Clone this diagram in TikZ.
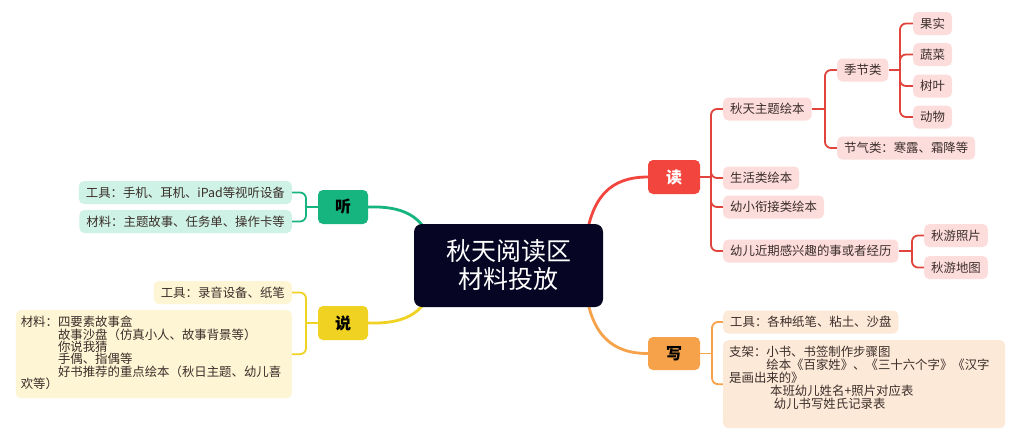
\documentclass[tikz,border=0pt]{standalone}
\usepackage{fontspec}
\setmainfont{Noto Sans CJK SC}
\pgfdeclarelayer{bg}
\pgfsetlayers{bg,main}
\definecolor{navy}{HTML}{060624}
\definecolor{gmain}{HTML}{16B47E}
\definecolor{gleaf}{HTML}{CFF2E6}
\definecolor{ymain}{HTML}{F0D223}
\definecolor{yleaf}{HTML}{FDF5D3}
\definecolor{rmain}{HTML}{F2453D}
\definecolor{rline}{HTML}{E0443C}
\definecolor{rleaf}{HTML}{FDDDDC}
\definecolor{omain}{HTML}{F5A24B}
\definecolor{oleaf}{HTML}{FDE9D8}
\definecolor{txt}{HTML}{3A2E2A}
\tikzset{
  leaf/.style={rounded corners=5pt, inner xsep=7pt, inner ysep=0pt, minimum height=23pt,
    font=\fontsize{12.4}{14}\selectfont, text=txt},
  topic/.style={rounded corners=5pt, minimum width=50pt, minimum height=34pt, inner sep=0pt,
    font=\fontsize{16}{18}\selectfont\bfseries},
  br/.style={line width=1.8pt, rounded corners=6pt},
  mainbr/.style={line width=2.8pt},
}
\begin{document}
\begin{tikzpicture}[x=1pt,y=-1pt]
\useasboundingbox (0,0) rectangle (1024,447);

% center
\node[fill=navy, rounded corners=8pt, minimum width=189pt, minimum height=83pt, text=white,
  align=center, font=\fontsize{25}{28}\selectfont] (c) at (508.5,265.5) {秋天阅读区\\材料投放};
\coordinate (cg) at (432,248);
\coordinate (cy) at (432,285);
\coordinate (cr) at (585,248);
\coordinate (co) at (585,284);

% main topics
\node[topic, fill=gmain, text=black] (ting) at (343,207) {听};
\node[topic, fill=ymain, text=black] (shuo) at (343,323) {说};
\node[topic, fill=rmain, text=white, minimum width=52pt] (du) at (674,177) {读};
\node[topic, fill=omain, text=black, minimum width=52pt, minimum height=33pt] (xie) at (674,353.5) {写};

% 听 leaves
\node[leaf, fill=gleaf, anchor=east] (t1) at (292,192.5) {工具：手机、耳机、iPad等视听设备};
\node[leaf, fill=gleaf, anchor=east] (t2) at (292,221.5) {材料：主题故事、任务单、操作卡等};

% 说 leaves
\node[leaf, fill=yleaf, anchor=east] (s1) at (292,292.5) {工具：录音设备、纸笔};
\node[fill=yleaf, rounded corners=5pt, anchor=north east, inner xsep=5pt, inner ysep=6pt, text=txt] (s2) at (292,310)
 {\parbox[t][76pt][t]{266pt}{\fontsize{12.4}{12.4}\selectfont\raggedright
 材料：四要素故事盒\\
 \hspace*{3em}故事沙盘（仿真小人、故事背景等）\\
 \hspace*{3em}你说我猜\\
 \hspace*{3em}手偶、指偶等\\
 \hspace*{3em}好书推荐的重点绘本（秋日主题、幼儿喜\\
 欢等）}};

% 读 leaves
\node[leaf, fill=rleaf, anchor=west] (d1) at (723,109) {秋天主题绘本};
\node[leaf, fill=rleaf, anchor=west] (d2) at (723,178) {生活类绘本};
\node[leaf, fill=rleaf, anchor=west] (d3) at (723,207) {幼小衔接类绘本};
\node[leaf, fill=rleaf, anchor=west] (d4) at (723,251) {幼儿近期感兴趣的事或者经历};
\node[leaf, fill=rleaf, anchor=west] (j1) at (837,70) {季节类};
\node[leaf, fill=rleaf, anchor=west] (j2) at (837,148) {节气类：寒露、霜降等};
\node[leaf, fill=rleaf, anchor=west] (f1) at (913,23.5) {果实};
\node[leaf, fill=rleaf, anchor=west] (f2) at (913,54.5) {蔬菜};
\node[leaf, fill=rleaf, anchor=west] (f3) at (913,86) {树叶};
\node[leaf, fill=rleaf, anchor=west] (f4) at (913,117) {动物};
\node[leaf, fill=rleaf, anchor=west] (q1) at (924,235.5) {秋游照片};
\node[leaf, fill=rleaf, anchor=west] (q2) at (924,267.5) {秋游地图};

% 写 leaves
\node[leaf, fill=oleaf, anchor=west] (x1) at (723,322) {工具：各种纸笔、粘土、沙盘};
\node[fill=oleaf, rounded corners=5pt, anchor=north west, inner xsep=6pt, inner ysep=6pt, text=txt] (x2) at (723,340)
 {\parbox[t][76pt][t]{270pt}{\fontsize{12.4}{13}\selectfont\raggedright
 支架：小书、书签制作步骤图\\
 \hspace*{3em}绘本《百家姓》、《三十六个字》《汉字\\
 是画出来的》\\
 \hspace*{3.3em}本班幼儿姓名+照片对应表\\
 \hspace*{3.6em}幼儿书写姓氏记录表}};

\begin{pgfonlayer}{bg}
\fill[white] (0,0) rectangle (1024,447);
% main curves
\draw[mainbr, gmain] (ting.east) .. controls (400,206) and (425,214) .. (cg);
\draw[mainbr, ymain] (shuo.east) .. controls (400,324) and (425,316) .. (cy);
\draw[mainbr, rmain] (cr) .. controls (590,195) and (612,177) .. (du.west);
\draw[mainbr, omain] (co) .. controls (590,335) and (612,353.5) .. (xie.west);

% 听 branches
\draw[br, gmain] (ting.west) -- (306,207) coordinate (tj);
\draw[br, gmain] (tj) |- (t1.east);
\draw[br, gmain] (tj) |- (t2.east);
% 说 branches
\draw[br, ymain] (shuo.west) -- (306,323) coordinate (sj);
\draw[br, ymain] (sj) |- (s1.east);
\draw[br, ymain] (sj) |- (s2.east);
% 读 branches
\draw[br, rline] (du.east) -- (711,177) coordinate (dj);
\foreach \n in {d1,d2,d3,d4} \draw[br, rline] (dj) |- (\n.west);
\draw[br, rline] (d1.east) -- (825,109) coordinate (d1j);
\foreach \n in {j1,j2} \draw[br, rline] (d1j) |- (\n.west);
\draw[br, rline] (j1.east) -- (900,70) coordinate (j1j);
\foreach \n in {f1,f2,f3,f4} \draw[br, rline] (j1j) |- (\n.west);
\draw[br, rline] (d4.east) -- (912,251) coordinate (d4j);
\foreach \n in {q1,q2} \draw[br, rline] (d4j) |- (\n.west);
% 写 branches
\draw[br, omain] (xie.east) -- (712,353.5) coordinate (xj);
\draw[br, omain] (xj) |- (x1.west);
\draw[br, omain] (xj) |- (x2.west);
\end{pgfonlayer}
\end{tikzpicture}
\end{document}
